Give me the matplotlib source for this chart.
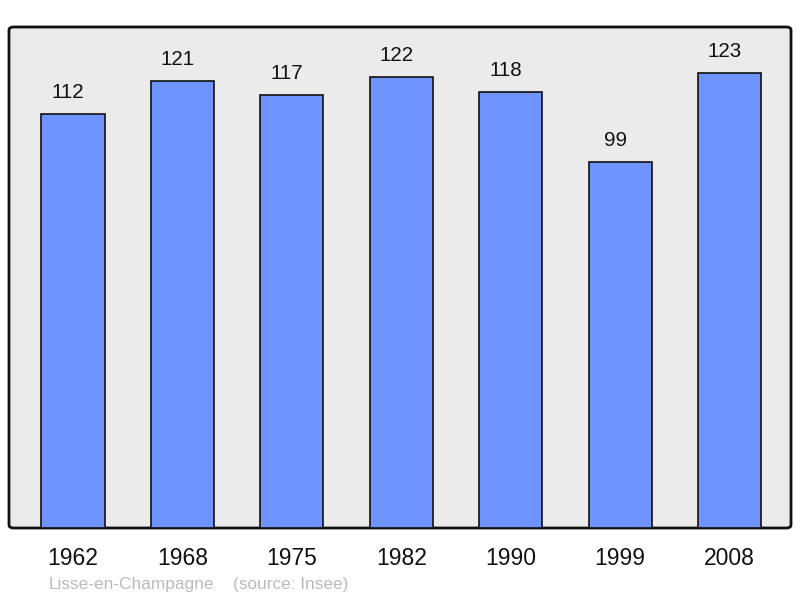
import matplotlib
matplotlib.use("Agg")
import matplotlib.pyplot as plt
from matplotlib.patches import FancyBboxPatch

years = ["1962", "1968", "1975", "1982", "1990", "1999", "2008"]
population = [112, 121, 117, 122, 118, 99, 123]
commune = "Lisse-en-Champagne"
source = "(source: Insee)"

plt.rcParams['font.family'] = ['Liberation Sans', 'DejaVu Sans']

fig = plt.figure(figsize=(8, 5.98), dpi=100)
ax = fig.add_axes([9/800, 70/598, 782/800, 501/598])
ax.set_facecolor('none')
for s in ax.spines.values():
    s.set_visible(False)

bg = FancyBboxPatch((0, 0), 1, 1, boxstyle="round,pad=0,rounding_size=0.006",
                    transform=ax.transAxes, facecolor='#EBEBEB', edgecolor='#111111',
                    linewidth=2, zorder=0, clip_on=False)
ax.add_patch(bg)

x = list(range(len(years)))
ax.bar(x, population, width=0.576, color='#7094FF', edgecolor='#111111',
       linewidth=1.2, zorder=2)
for xi, v in zip(x, population):
    ax.annotate(str(v), (xi, v), xytext=(-3.5, 15.5), textcoords='offset points',
                ha='center', va='center', fontsize=14.8, color='#111111')

ax.set_xlim(-0.585, 6.562)
ax.set_ylim(0, 135.5)
ax.set_yticks([])
ax.set_xticks(x)
ax.set_xticklabels(years, fontsize=16.5, color='#111111')
ax.tick_params(axis='x', length=0, pad=14)

fig.text(49/800, 1 - 584/598, commune, fontsize=12.4, color='#BBBBBB', va='center', ha='left')
fig.text(233/800, 1 - 584/598, source, fontsize=12.4, color='#BBBBBB', va='center', ha='left')

fig.savefig("out.png", dpi=100)
